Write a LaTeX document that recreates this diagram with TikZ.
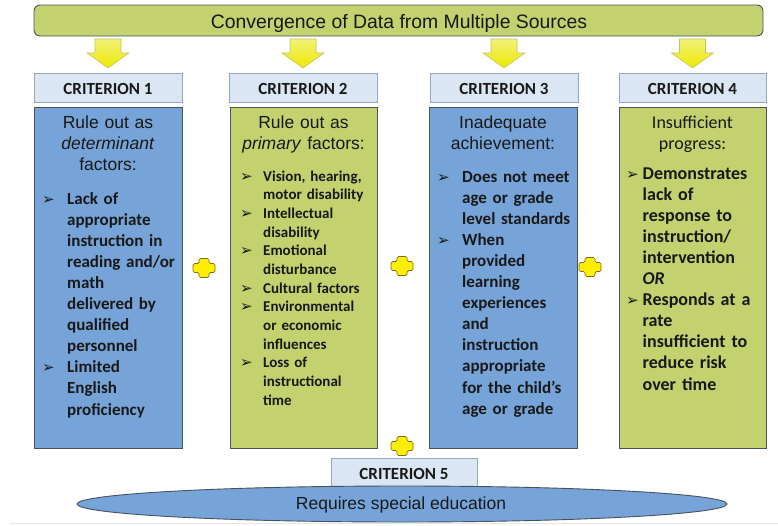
\documentclass[tikz,border=0pt]{standalone}
\usepackage{fontspec}
\setmainfont{Carlito}
\newfontfamily\arialf{Liberation Sans}
\newfontfamily\calf{Carlito}
\newfontfamily\symf{DejaVu Sans}
\usetikzlibrary{calc,shapes.geometric}

\definecolor{bluefill}{RGB}{118,164,216}
\definecolor{greenfill}{RGB}{196,209,111}
\definecolor{hdrfill}{RGB}{219,230,244}
\definecolor{hdrline}{RGB}{150,166,188}
\definecolor{boxline}{RGB}{72,82,92}
\definecolor{arrowtop}{RGB}{242,242,120}
\definecolor{arrowbot}{RGB}{238,232,0}
\definecolor{arrowline}{RGB}{196,196,96}
\definecolor{plusfill}{RGB}{255,238,0}
\definecolor{plusline}{RGB}{120,108,30}
\definecolor{txt}{RGB}{25,25,25}
\definecolor{faintline}{RGB}{226,229,233}

\newcommand\bul{{\symf\fontsize{15}{15}\selectfont\raisebox{0pt}{➢}}}
\newcommand\bitem[2]{\noindent\hangindent=#1\hangafter=1\makebox[#1][l]{\bul}#2\par}
\newcommand\yarr[2]{\path[yarrow] let \p1=(#2.north), \p2=(#1.south) in
  (\x1-13pt,\y2-3pt) -- (\x1+13pt,\y2-3pt) -- (\x1+13pt,\y1+20pt) -- (\x1+21pt,\y1+20pt)
  -- (\x1,\y1+5pt) -- (\x1-21pt,\y1+20pt) -- (\x1-13pt,\y1+20pt) -- cycle;}

\begin{document}
\begin{tikzpicture}[x=1pt,y=-1pt,
  banner/.style={draw=boxline, line width=0.9pt, fill=greenfill, rounded corners=6pt, inner sep=0pt, outer sep=0pt},
  hdr/.style={draw=hdrline, line width=0.8pt, fill=hdrfill, inner sep=0pt, outer sep=0pt},
  bluecol/.style={draw=boxline, line width=0.9pt, fill=bluefill, inner sep=0pt, outer sep=0pt},
  greencol/.style={draw=boxline, line width=0.9pt, fill=greenfill, inner sep=0pt, outer sep=0pt},
  yarrow/.style={top color=arrowtop, bottom color=arrowbot, draw=arrowline, line width=0.6pt},
  plusstyle/.style={fill=plusfill, draw=plusline, line width=0.7pt, rounded corners=1.5pt},
  hdrtext/.style={anchor=base, inner sep=0pt, text=txt, font=\calf\bfseries\fontsize{17}{20}\selectfont},
  headA/.style={anchor=base, inner sep=0pt, text=txt, align=center, text width=146pt, font=\arialf\fontsize{17.5}{21}\selectfont},
  headC/.style={anchor=base, inner sep=0pt, text=txt, align=center, text width=146pt, font=\calf\fontsize{18}{21}\selectfont},
  body/.style={anchor=base west, inner sep=0pt, text=txt, text width=142pt},
  pics/plusmark/.style={code={\path[plusstyle] (-5,-9.5)--(5,-9.5)--(5,-4.5)--(11,-4.5)--(11,4.5)--(5,4.5)--(5,9.5)--(-5,9.5)--(-5,4.5)--(-11,4.5)--(-11,-4.5)--(-5,-4.5)--cycle;}}
]
\useasboundingbox (0,0) rectangle (778,525);
\fill[white] (0,0) rectangle (778,525);
\draw[faintline, line width=0.8pt] (10,523) -- (778,523);

% banner
\node[banner, minimum width=729pt, minimum height=31pt, anchor=north west] (banner) at (34,5) {};
\node[anchor=base, inner sep=0pt, text=txt, font=\arialf\fontsize{19.4}{22}\selectfont] (bannertext) at (399,28) {Convergence of Data from Multiple Sources};

% headers
\node[hdr, minimum width=148pt, minimum height=29pt, anchor=north west] (h1) at (34,73) {};
\node[hdr, minimum width=148pt, minimum height=29pt, anchor=north west] (h2) at (229,73) {};
\node[hdr, minimum width=148pt, minimum height=29pt, anchor=north west] (h3) at (430,73) {};
\node[hdr, minimum width=147pt, minimum height=29pt, anchor=north west] (h4) at (619,73) {};
\node[hdrtext] (h1t) at (108,94) {CRITERION 1};
\node[hdrtext] (h2t) at (303,94) {CRITERION 2};
\node[hdrtext] (h3t) at (504,94) {CRITERION 3};
\node[hdrtext] (h4t) at (692.5,94) {CRITERION 4};

% arrows
\yarr{banner}{h1}
\yarr{banner}{h2}
\yarr{banner}{h3}
\yarr{banner}{h4}

% columns
\node[bluecol, minimum width=148pt, minimum height=341pt, anchor=north west] (c1) at (34,107) {};
\node[greencol, minimum width=147pt, minimum height=341pt, anchor=north west] (c2) at (230,107) {};
\node[bluecol, minimum width=148pt, minimum height=341pt, anchor=north west] (c3) at (429,107) {};
\node[greencol, minimum width=147pt, minimum height=341pt, anchor=north west] (c4) at (619,107) {};

% column headings
\node[headA] (t1) at (108,128) {Rule out as\\\textit{determinant}\\factors:};
\node[headA] (t2) at (303.5,128) {Rule out as\\\textit{primary} factors:};
\node[headA] (t3) at (503,128) {Inadequate\\achievement:};
\node[headC] (t4) at (692.5,128) {Insufficient\\progress:};

% column bodies
\node[body, font=\calf\bfseries\fontsize{17}{21.1}\selectfont] (b1) at (42,204) {\raggedright
\bitem{25pt}{Lack of\newline appropriate\newline instruction in\newline reading and/or\newline math\newline delivered by\newline qualified\newline personnel}
\bitem{25pt}{Limited\newline English\newline proficiency}};

\node[body, font=\calf\bfseries\fontsize{15}{18.67}\selectfont] (b2) at (240,181) {\raggedright
\bitem{23pt}{Vision, hearing,\newline motor disability}
\bitem{23pt}{Intellectual\newline disability}
\bitem{23pt}{Emotional\newline disturbance}
\bitem{23pt}{Cultural factors}
\bitem{23pt}{Environmental\newline or economic\newline influences}
\bitem{23pt}{Loss of\newline instructional\newline time}};

\node[body, font=\calf\bfseries\fontsize{17}{21.1}\selectfont] (b3) at (437,182) {\raggedright
\bitem{25pt}{Does not meet\newline age or grade\newline level standards}
\bitem{25pt}{When\newline provided\newline learning\newline experiences\newline and\newline instruction\newline appropriate\newline for the child’s\newline age or grade}};

\node[body, font=\calf\bfseries\fontsize{18}{21.1}\selectfont] (b4) at (626,179) {\raggedright
\bitem{16.5pt}{Demonstrates\newline lack of\newline response to\newline instruction/\newline intervention\newline \textit{OR}}
\bitem{16.5pt}{Responds at a\newline rate\newline insufficient to\newline reduce risk\newline over time}};

% plus signs
\pic (p12) at (204,268) {plusmark};
\pic (p23) at (402,266) {plusmark};
\pic (p34) at (590,267) {plusmark};
\pic (p5) at (402,446) {plusmark};

% criterion 5 and ellipse
\node[hdr, minimum width=146pt, minimum height=29pt, anchor=north west] (h5) at (331,458) {};
\node[hdrtext] (h5t) at (404,479) {CRITERION 5};
\node[ellipse, draw=boxline, line width=0.9pt, fill=bluefill, minimum width=650pt, minimum height=36pt, inner sep=0pt] (ell) at (402,504) {};
\node[anchor=base, inner sep=0pt, text=txt, font=\arialf\fontsize{17.5}{21}\selectfont] (ellt) at (401,509) {Requires special education};
\end{tikzpicture}
\end{document}
